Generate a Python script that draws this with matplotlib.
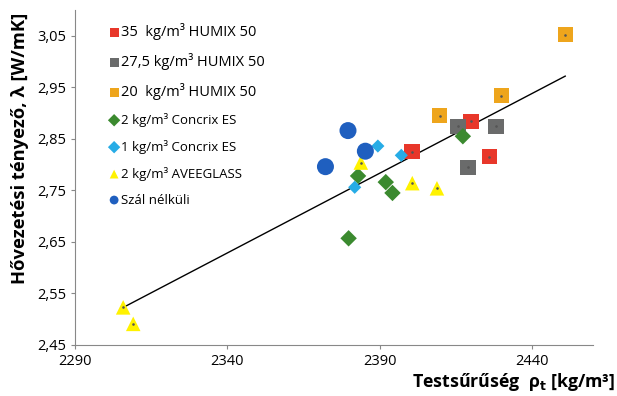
import numpy as np
import matplotlib.pyplot as plt

# Testsűrűség (x) és hővezetési tényező (y) sorozatonként
humix35_x = [2400.6, 2420.0, 2426.0]
humix35_y = [2.825, 2.884, 2.815]
humix275_x = [2415.7, 2428.2, 2419.0]
humix275_y = [2.874, 2.874, 2.795]
humix20_x = [2450.9, 2429.9, 2409.7]
humix20_y = [3.052, 2.934, 2.895]
concrix2_x = [2417.3, 2382.9, 2392.0, 2394.2, 2379.8]
concrix2_y = [2.855, 2.778, 2.766, 2.745, 2.657]
concrix1_x = [2389.4, 2397.1, 2381.8]
concrix1_y = [2.836, 2.818, 2.756]
aveeglass_x = [2383.8, 2400.7, 2408.8, 2305.8, 2309.1]
aveeglass_y = [2.804, 2.764, 2.754, 2.523, 2.491]
szal_x = [2379.6, 2385.3, 2372.2]
szal_y = [2.866, 2.826, 2.796]

labels = ['35  kg/m³ HUMIX 50', '27,5 kg/m³ HUMIX 50', '20  kg/m³ HUMIX 50',
          '2 kg/m³ Concrix ES', '1 kg/m³ Concrix ES', '2 kg/m³ AVEEGLASS',
          'Szál nélküli']

x_ticks = [2290, 2340, 2390, 2440]
y_ticks = [2.45, 2.55, 2.65, 2.75, 2.85, 2.95, 3.05]

plt.rcParams['font.family'] = ['Open Sans', 'DejaVu Sans']

fig = plt.figure(figsize=(6.17, 3.96), dpi=100)
ax = fig.add_axes([0.1216, 0.1288, 0.8394, 0.846])

series = [
    (humix35_x, humix35_y, 's', '#e8372a', 120),
    (humix275_x, humix275_y, 's', '#6a6b6b', 120),
    (humix20_x, humix20_y, 's', '#eea51c', 120),
    (concrix2_x, concrix2_y, 'D', '#3b8a2f', 70),
    (concrix1_x, concrix1_y, 'D', '#27ace6', 45),
    (aveeglass_x, aveeglass_y, '^', '#fff200', 110),
    (szal_x, szal_y, 'o', '#1f5fbf', 150),
]
for (xs, ys, m, c, s), lab in zip(series, labels):
    ax.scatter(xs, ys, marker=m, s=s, color=c, edgecolors='none', label=lab, zorder=3)

# apró sötét pont a jelölők közepén
for xs, ys, m, c, s in [series[0], series[1], series[2], series[5]]:
    ax.scatter(xs, ys, marker='.', s=3, color='#555555', zorder=4)

# lineáris trendvonal az összes mérésre
all_x = np.concatenate([np.array(s[0]) for s in series])
all_y = np.concatenate([np.array(s[1]) for s in series])
k, b = np.polyfit(all_x, all_y, 1)
tx = np.array([all_x.min(), all_x.max()])
ax.plot(tx, k * tx + b, color='black', linewidth=1.0, zorder=2)

ax.set_xlim(2290, 2460)
ax.set_ylim(2.45, 3.10)
ax.set_xticks(x_ticks)
ax.set_xticklabels([str(v) for v in x_ticks], fontsize=10.5)
ax.set_yticks(y_ticks)
ax.set_yticklabels([f'{v:.2f}'.replace('.', ',') for v in y_ticks], fontsize=10.5)
ax.tick_params(length=3, color='#888888')
for side in ['top', 'right']:
    ax.spines[side].set_visible(False)
for side in ['left', 'bottom']:
    ax.spines[side].set_color('#888888')
    ax.spines[side].set_linestyle((0, (4, 1)))
    ax.spines[side].set_linewidth(0.8)

fig.text(0.033, 0.625, 'Hővezetési tényező, λ [W/mK]', fontsize=13.2, fontweight='bold',
         rotation=90, ha='center', va='center')
fig.text(0.997, 0.008, 'Testsűrűség  ρ$_\\mathbf{t}$ [kg/m³]', fontsize=12.8,
         fontweight='bold', ha='right', va='bottom')

leg = ax.legend(loc='upper left', bbox_to_anchor=(0.05, 0.985), frameon=False,
                handletextpad=0.1, handlelength=0.8, labelspacing=0.98,
                fontsize=9.5, borderaxespad=0.2)
for i, t in enumerate(leg.get_texts()):
    if i < 3:
        t.set_fontsize(10.5)
for h in leg.legend_handles:
    h.set_sizes([40])

fig.savefig('out.png', dpi=100)
